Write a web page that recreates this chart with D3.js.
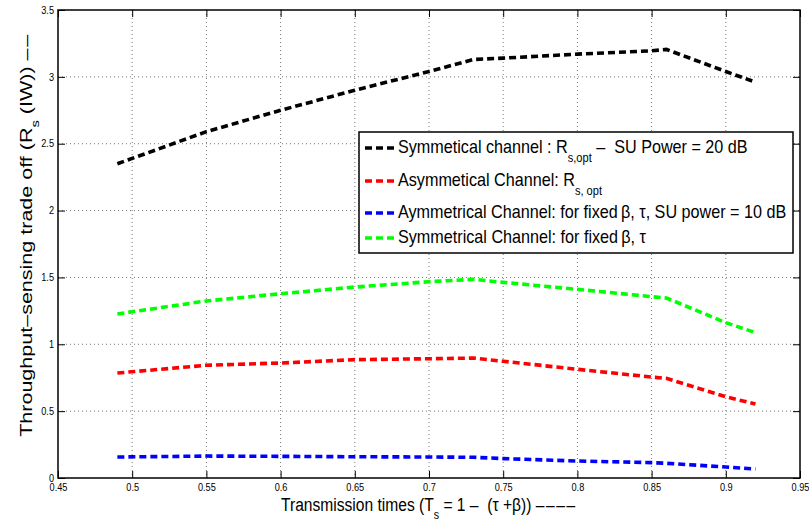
<!DOCTYPE html>
<html>
<head>
<meta charset="utf-8">
<script src="https://cdn.jsdelivr.net/npm/d3@7"></script>
<style>
  body { margin: 0; background: #fff; }
  text { font-family: "Liberation Sans", Arial, Helvetica, sans-serif; white-space: pre; }
</style>
</head>
<body>
<div id="chart-area"></div>
<script>
// Data
var xValues   = [0.49, 0.55, 0.6, 0.65, 0.7, 0.73, 0.75, 0.8, 0.85, 0.86, 0.9, 0.92]
var symOpt    = [2.35, 2.59, 2.75, 2.9, 3.04, 3.13, 3.14, 3.17, 3.195, 3.205, 3.04, 2.96]
var asymOpt   = [0.785, 0.843, 0.86, 0.885, 0.892, 0.897, 0.873, 0.813, 0.755, 0.745, 0.608, 0.553]
var asymFixed = [0.157, 0.164, 0.162, 0.159, 0.157, 0.155, 0.145, 0.127, 0.115, 0.11, 0.082, 0.067]
var symFixed  = [1.227, 1.324, 1.378, 1.428, 1.468, 1.486, 1.463, 1.411, 1.356, 1.346, 1.162, 1.087]

var xTicks = [0.45, 0.5, 0.55, 0.6, 0.65, 0.7, 0.75, 0.8, 0.85, 0.9, 0.95]
var yTicks = [0, 0.5, 1, 1.5, 2, 2.5, 3, 3.5]

// legend labels: [text, isSubscript]
var seriesNames = [
    [["Symmetical channel : R"], ["s,opt", 1], [" \u2013  SU Power = 20 dB"]],
    [["Asymmetical Channel: R"], ["s, opt", 1]],
    [["Aymmetrical Channel: for fixed\u2009\u03b2, \u03c4, SU power = 10 dB"]],
    [["Symmetrical Channel: for fixed\u2009\u03b2, \u03c4"]]
]
var seriesValues = [symOpt, asymOpt, asymFixed, symFixed]
var seriesColors = ["#000000", "#ff0000", "#0000ff", "#00ff00"]

// Canvas
var margin = {top: 10, right: 9, bottom: 44, left: 58},
    width = 809 - margin.left - margin.right,
    height = 522 - margin.top - margin.bottom

var svg = d3.select("#chart-area")
    .append("svg")
        .attr("width", 809)
        .attr("height", 522)

var g = svg.append("g")
    .attr("transform", "translate(" + margin.left + ", " + margin.top + ")")

// squeeze a text horizontally around x0 by factor k (the figure is narrower than tall)
function squeeze(sel, x0, k){
    sel.attr("transform", "translate(" + x0 + ",0) scale(" + k + ",1) translate(" + (-x0) + ",0)")
}

// Scales
var x = d3.scaleLinear().domain([0.45, 0.95]).range([0, width])
var y = d3.scaleLinear().domain([0, 3.5]).range([height, 0])

// Dotted grid
g.selectAll(".vgrid")
    .data(xTicks.slice(1, -1))
    .enter().append("line")
        .attr("x1", d => x(d)).attr("x2", d => x(d))
        .attr("y1", 0).attr("y2", height)
        .attr("stroke", "#777").attr("stroke-width", 1)
        .attr("stroke-dasharray", "1,3")
g.selectAll(".hgrid")
    .data(yTicks.slice(1, -1))
    .enter().append("line")
        .attr("x1", 0).attr("x2", width)
        .attr("y1", d => y(d)).attr("y2", d => y(d))
        .attr("stroke", "#777").attr("stroke-width", 1)
        .attr("stroke-dasharray", "1,3")

// Axes (ticks inside, mirrored on top/right)
var xAxisCall = d3.axisBottom(x).tickValues(xTicks).tickSizeInner(-7).tickSizeOuter(0).tickPadding(6).tickFormat(d => String(d))
g.append("g")
    .attr("class", "x-axis")
    .attr("transform", "translate(0, " + height + ")")
    .call(xAxisCall)
var yAxisCall = d3.axisLeft(y).tickValues(yTicks).tickSizeInner(-7).tickSizeOuter(0).tickPadding(4).tickFormat(d => String(d))
g.append("g")
    .attr("class", "y-axis")
    .call(yAxisCall)
g.append("g")
    .attr("transform", "translate(" + width + ",0)")
    .call(d3.axisRight(y).tickValues(yTicks).tickSizeInner(-7).tickSizeOuter(0).tickFormat(""))
g.append("g")
    .call(d3.axisTop(x).tickValues(xTicks).tickSizeInner(-7).tickSizeOuter(0).tickFormat(""))

g.selectAll(".domain").remove()
g.selectAll(".tick line").attr("stroke", "#000").attr("stroke-width", 1)
g.selectAll(".tick text").attr("fill", "#000").attr("font-size", 10)
    .attr("font-family", "'Liberation Sans', Arial, sans-serif")
g.selectAll(".x-axis .tick text").each(function(){ squeeze(d3.select(this), 0, 0.92) })
g.selectAll(".y-axis .tick text").each(function(){ squeeze(d3.select(this), -4, 0.92) })

// Frame
g.append("rect")
    .attr("x", 0).attr("y", 0)
    .attr("width", width).attr("height", height)
    .attr("fill", "none").attr("stroke", "#000").attr("stroke-width", 1.5)

// Curves
var line = d3.line()
    .x((d, i) => x(xValues[i]))
    .y(d => y(d))

g.selectAll(".curve")
    .data(seriesValues)
    .enter().append("path")
        .attr("class", "curve")
        .attr("d", d => line(d))
        .attr("fill", "none")
        .attr("stroke", (d, i) => seriesColors[i])
        .attr("stroke-width", 3.6)
        .attr("stroke-dasharray", "7,4")

// Legend
var legendRows = [153, 186, 218, 243]
var legend = svg.append("g")
legend.append("rect")
    .attr("x", 359).attr("y", 132)
    .attr("width", 434).attr("height", 121)
    .attr("fill", "#fff").attr("stroke", "#000").attr("stroke-width", 1.5)

var legendTexts = []
seriesNames.forEach(function(parts, i){
    legend.append("line")
        .attr("x1", 365).attr("x2", 395)
        .attr("y1", legendRows[i] - 5).attr("y2", legendRows[i] - 5)
        .attr("stroke", seriesColors[i])
        .attr("stroke-width", 3.6)
        .attr("stroke-dasharray", "7,4")
    var t = legend.append("text")
        .attr("x", 398)
        .attr("y", legendRows[i])
        .attr("font-size", 19)
    parts.forEach(function(p, j){
        var ts = t.append("tspan").text(p[0])
        if (p[1]) ts.attr("font-size", 13).attr("dy", 9)
        else if (j > 0) ts.attr("dy", -9)
    })
    legendTexts.push(t)
})
// first row spans 398 -> 748 in the figure; use the same squeeze for all rows
var kLegend = 350 / legendTexts[0].node().getBBox().width
legendTexts.forEach(t => squeeze(t, 398, kLegend))

// Axis titles
var xTitle = svg.append("text")
    .attr("x", 429)
    .attr("y", 511)
    .attr("text-anchor", "middle")
    .attr("font-size", 19)
xTitle.append("tspan").text("Transmission times (T")
xTitle.append("tspan").text("s").attr("font-size", 13).attr("dy", 8)
xTitle.append("tspan").text(" = 1 \u2013  (\u03c4 +\u03b2)) ").attr("dy", -8)
xTitle.append("tspan").text("\u2013\u2013\u2013\u2013").attr("letter-spacing", 2)
squeeze(xTitle, 429, 296 / xTitle.node().getBBox().width)

var yTitle = svg.append("text")
    .attr("text-anchor", "middle")
    .attr("font-size", 19)
yTitle.append("tspan").text("Throughput\u2013sensing trade off (R")
yTitle.append("tspan").text("s").attr("font-size", 13).attr("dy", 8)
yTitle.append("tspan").text(" (IW)) ").attr("dy", -8)
yTitle.append("tspan").text("\u2013\u2013").attr("letter-spacing", 1.5)
var kY = 404 / yTitle.node().getBBox().width
yTitle.attr("transform", "translate(32, 235) rotate(-90) scale(" + kY + ", 0.85)")
</script>
</body>
</html>
